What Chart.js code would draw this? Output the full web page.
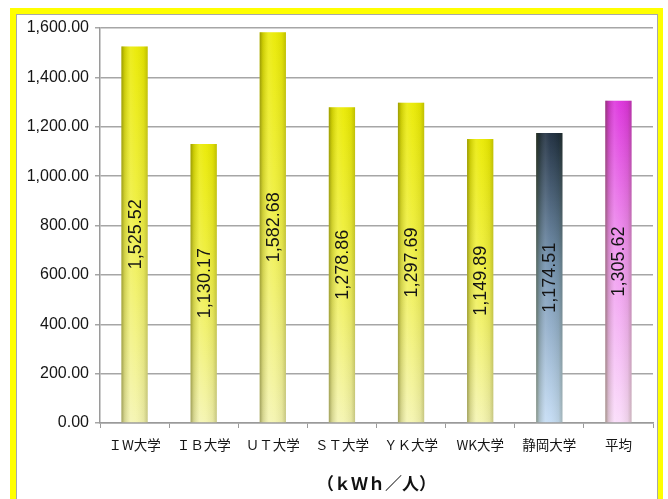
<!DOCTYPE html>
<html>
<head>
<meta charset="utf-8">
<script src="https://cdn.jsdelivr.net/npm/chart.js@4/dist/chart.umd.min.js"></script>
<style>
  html, body { margin: 0; padding: 0; background: #fff; }
  body { width: 668px; height: 499px; position: relative; overflow: hidden; }
  #frame {
    position: absolute; left: 10px; top: 8px; width: 653px; height: 600px;
    box-sizing: border-box; border: 6px solid #ffff00; border-right-width: 5px;
    box-shadow: inset 0 0 0 1px #a8a8a8; background: #fff;
  }
  #wrap { position: absolute; left: 0; top: 0; width: 668px; height: 499px; }
</style>
</head>
<body>
<div id="frame"></div>
<div id="wrap"><canvas id="myChart" width="668" height="499"></canvas></div>
<script>
// 大学別 一人当たり電力使用量
const universities = ['ＩW大学', 'ＩＢ大学', 'ＵＴ大学', 'ＳＴ大学', 'ＹＫ大学', 'WK大学', '静岡大学', '平均'];
const usagePerPerson = [1525.52, 1130.17, 1582.68, 1278.86, 1297.69, 1149.89, 1174.51, 1305.62];
const yTicks = [0, 200, 400, 600, 800, 1000, 1200, 1400, 1600];
const unitLabel = '（ｋＷｈ／人）';

// bar colour themes: top -> bottom
const yellowTheme = ['#eaea00', '#efef40', '#f4f4b0'];
const blueTheme = ['#1a2a3c', '#6f8eac', '#c4dcf4'];
const pinkTheme = ['#dc30dc', '#ee90ee', '#fadcfa'];
const barThemes = [yellowTheme, yellowTheme, yellowTheme, yellowTheme, yellowTheme, yellowTheme, blueTheme, pinkTheme];

const fmt = v => v.toLocaleString('en-US', { minimumFractionDigits: 2, maximumFractionDigits: 2 });

// vertical gradient per bar
function barFill(context) {
  const chart = context.chart;
  const area = chart.chartArea;
  if (!area) return barThemes[context.dataIndex][1];
  const y = chart.scales.y;
  const top = y.getPixelForValue(usagePerPerson[context.dataIndex]);
  const bottom = y.getPixelForValue(0);
  const t = barThemes[context.dataIndex];
  const g = chart.ctx.createLinearGradient(0, top, 0, bottom);
  g.addColorStop(0, t[0]);
  g.addColorStop(0.45, t[1]);
  g.addColorStop(1, t[2]);
  return g;
}

// cylinder shading + value labels
const barDecor = {
  id: 'barDecor',
  afterDatasetsDraw(chart) {
    const ctx = chart.ctx;
    const meta = chart.getDatasetMeta(0);
    meta.data.forEach((bar, i) => {
      const left = bar.x - bar.width / 2;
      const g = ctx.createLinearGradient(left, 0, left + bar.width, 0);
      g.addColorStop(0, 'rgba(60,60,0,0.45)');
      g.addColorStop(0.12, 'rgba(60,60,0,0.18)');
      g.addColorStop(0.35, 'rgba(255,255,255,0.12)');
      g.addColorStop(0.55, 'rgba(255,255,255,0.05)');
      g.addColorStop(0.85, 'rgba(60,60,0,0.08)');
      g.addColorStop(1, 'rgba(60,60,0,0.25)');
      ctx.save();
      ctx.fillStyle = g;
      ctx.fillRect(left, bar.y, bar.width, bar.base - bar.y);
      ctx.restore();

      ctx.save();
      ctx.translate(bar.x, (bar.y + bar.base) / 2);
      ctx.rotate(-Math.PI / 2);
      ctx.font = '18px "Liberation Sans"';
      ctx.fillStyle = '#151515';
      ctx.textAlign = 'center';
      ctx.textBaseline = 'middle';
      ctx.fillText(fmt(usagePerPerson[i]), 0, 1);
      ctx.restore();
    });
  }
};

const ctx = document.getElementById('myChart');
new Chart(ctx, {
  type: 'bar',
  data: {
    labels: universities,
    datasets: [{
      data: usagePerPerson,
      backgroundColor: barFill,
      borderWidth: 0,
      barPercentage: 0.38,
      categoryPercentage: 1
    }]
  },
  options: {
    responsive: false,
    animation: false,
    layout: { padding: { top: 28, right: 15, left: 0, bottom: 0 } },
    plugins: { legend: { display: false }, tooltip: { enabled: false } },
    scales: {
      x: {
        afterFit: s => { s.height = 76; },
        grid: { offset: true, drawOnChartArea: false, drawTicks: true, tickLength: 5, color: '#9a9a9a', lineWidth: 1 },
        border: { color: '#9a9a9a', width: 1.5 },
        ticks: {
          padding: 9,
          color: '#151515',
          font: { family: '"Noto Sans CJK JP"', size: 13.5 }
        },
        title: {
          display: true,
          text: unitLabel,
          color: '#111',
          font: { family: '"Noto Sans CJK JP"', size: 17, weight: 'bold' },
          padding: { top: 0, bottom: 5 }
        }
      },
      y: {
        min: 0,
        max: 1600,
        afterFit: s => { s.width = 100; },
        afterBuildTicks: s => { s.ticks = yTicks.map(v => ({ value: v })); },
        grid: { color: '#a6a6a6', lineWidth: 1.5, tickLength: 5 },
        border: { color: '#9a9a9a', width: 1.5 },
        ticks: {
          padding: 6,
          color: '#151515',
          font: { family: '"Liberation Sans"', size: 16 },
          callback: v => fmt(v)
        }
      }
    }
  },
  plugins: [barDecor]
});
</script>
</body>
</html>
